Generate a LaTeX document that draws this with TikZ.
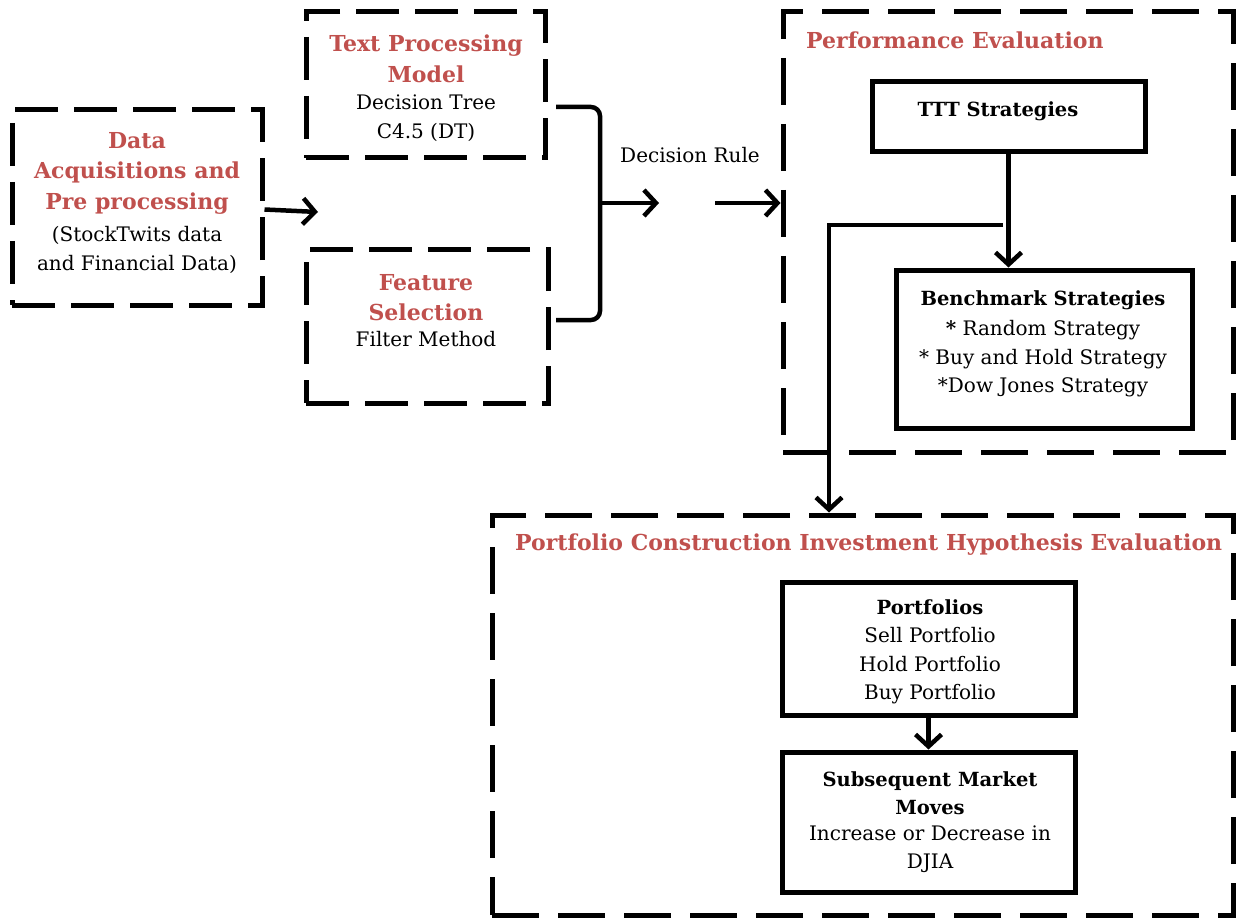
\documentclass[tikz,border=0pt]{standalone}
\usepackage{fontspec}
\setmainfont{DejaVu Serif}
\usetikzlibrary{arrows.meta,calc}
\definecolor{titlered}{HTML}{C0504D}
\begin{document}
\begin{tikzpicture}[x=1pt,y=-1pt,
  dbox/.style={draw,line width=5pt,dash pattern=on 43pt off 16pt,inner sep=0pt},
  bigdbox/.style={dbox,dash pattern=on 47pt off 19pt},
  sbox/.style={draw,line width=5pt,inner sep=0pt},
  body/.style={font=\fontsize{20}{28.5}\selectfont,align=center,inner sep=0pt},
  head/.style={font=\fontsize{22}{30.5}\selectfont\bfseries,text=titlered,align=center,inner sep=0pt},
  bhead/.style={font=\fontsize{19.5}{28.5}\selectfont\bfseries,align=center,inner sep=0pt},
  conn/.style={line width=4.5pt},
  arr/.style={conn,-{Straight Barb[length=12pt,width=26pt]}}]
\useasboundingbox (0,0) rectangle (1237,920);

% input stages
\node[dbox,minimum width=250,minimum height=195] (data) at (137,207.5) {};
\node[head] (datahead) at (137,173) {Data\\Acquisitions and\\Pre processing};
\node[body] (databody) at (137,250) {(StockTwits data\\and Financial Data)};

\node[dbox,minimum width=239,minimum height=146] (tpm) at (425.5,85) {};
\node[head] (tpmhead) at (426,59) {Text Processing\\Model};
\node[body] (tpmbody) at (426,118) {Decision Tree\\C4.5 (DT)};

\node[dbox,minimum width=242,minimum height=153] (fs) at (427,326.5) {};
\node[head] (fshead) at (426,297.5) {Feature\\Selection};
\node[body] (fsbody) at (426,339) {Filter Method};

% performance evaluation
\node[bigdbox,minimum width=450,minimum height=440] (perf) at (1008,232) {};
\node[head,anchor=west] (perfhead) at (806,40) {Performance Evaluation};
\node[sbox,minimum width=273,minimum height=70] (ttt) at (1008.5,117) {};
\node[bhead] (ttttext) at (998,111) {TTT Strategies};
\node[sbox,minimum width=296,minimum height=158] (bench) at (1044,349) {};
\node[bhead] (benchhead) at (1043,300) {Benchmark Strategies};
\node[body] (benchbody) at (1043,359) {\textbf{*} Random Strategy\\* Buy and Hold Strategy\\*Dow Jones Strategy};

% portfolio construction
\node[bigdbox,minimum width=741,minimum height=400] (port) at (862.5,715) {};
\node[head,anchor=west] (porthead) at (515,545) {Portfolio Construction Investment Hypothesis Evaluation};
\node[sbox,minimum width=293,minimum height=133] (pf) at (928.5,648.5) {};
\node[bhead] (pfhead) at (930,607) {Portfolios};
\node[body] (pfbody) at (930,666) {Sell Portfolio\\Hold Portfolio\\Buy Portfolio};
\node[sbox,minimum width=293,minimum height=140] (sm) at (928.5,822) {};
\node[bhead] (smhead) at (930,793) {Subsequent Market\\Moves};
\node[body] (smbody) at (930,849) {Increase or Decrease in\\DJIA};

% connectors
\coordinate (gapL) at (318,212);
\draw[arr] (data.east) ++(0,2) -- (gapL);

\coordinate (bt) at (556,107);
\coordinate (bb) at (556,320);
\coordinate (brace) at (600,203);
\draw[conn,rounded corners=9pt] (bt) -| (brace) |- (bb);
\coordinate (dr1) at (659,203);
\draw[arr] (brace) -- (dr1);
\node[body] (rule) at (690,155) {Decision Rule};
\coordinate (dr2) at (715,203);
\draw[arr] (dr2) -- (perf.west |- dr2);

\draw[arr] (ttt.south) -- (bench.north -| ttt.south);

\coordinate (lstart) at (1003,225);
\coordinate (lturn) at (829,225);
\draw[arr] (lstart) -- (lturn) -- (lturn |- port.north);

\draw[arr] (pf.south) -- (sm.north);
\end{tikzpicture}
\end{document}
